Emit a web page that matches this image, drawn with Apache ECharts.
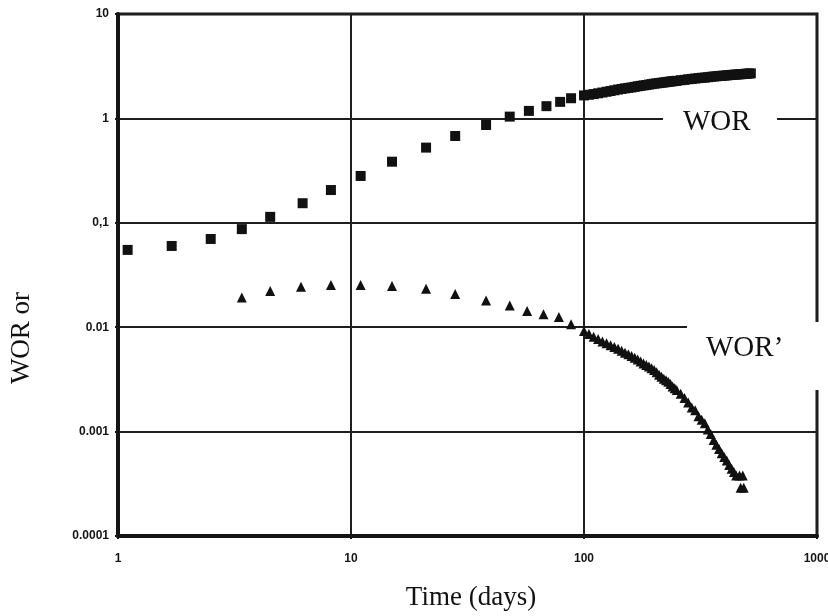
<!DOCTYPE html>
<html><head><meta charset="utf-8">
<script src="https://cdn.jsdelivr.net/npm/echarts@6/dist/echarts.min.js"></script>
<style>html,body{margin:0;padding:0;background:#fff}#c{width:828px;height:616px}</style>
</head><body><div id="c"></div>
<script>
// WOR (squares)
const worDays = [1.1, 1.7, 2.5, 3.4, 4.5, 6.2, 8.2, 11, 15, 21, 28, 38, 48, 58, 69, 79, 88,
  100, 105, 110, 115, 120, 125, 130, 135, 140, 145, 150, 155, 160, 165, 170, 175, 180, 185, 190, 195,
  200, 205, 210, 215, 220, 225, 230, 235, 240, 245, 250, 260, 270, 280, 290,
  300, 310, 320, 330, 340, 350, 360, 370, 380, 390, 400, 410, 420, 430, 440, 450, 460, 470, 480, 490, 500, 510, 520];
const worValues = [0.055, 0.060, 0.070, 0.087, 0.114, 0.154, 0.206, 0.281, 0.385, 0.525, 0.678, 0.865, 1.04, 1.18, 1.31, 1.44, 1.56,
  1.66, 1.685, 1.71, 1.74, 1.77, 1.80, 1.83, 1.86, 1.89, 1.915, 1.94, 1.96, 1.98, 2.005, 2.03, 2.05, 2.07, 2.09, 2.11, 2.13,
  2.15, 2.165, 2.18, 2.195, 2.21, 2.225, 2.24, 2.255, 2.27, 2.28, 2.29, 2.32, 2.34, 2.37, 2.39,
  2.41, 2.43, 2.45, 2.46, 2.48, 2.50, 2.52, 2.53, 2.55, 2.56, 2.57, 2.58, 2.60, 2.61, 2.62, 2.63, 2.64, 2.65, 2.66, 2.67, 2.68, 2.69, 2.70];

// WOR' (triangles)
const worDerivDays = [3.4, 4.5, 6.1, 8.2, 11, 15, 21, 28, 38, 48, 57, 67, 78, 88,
  100, 105, 110, 115, 120, 125, 130, 135, 140, 145, 150, 155, 160, 165, 170, 175, 180, 185, 190, 195,
  200, 205, 210, 215, 220, 225, 230, 235, 240, 245, 250, 260, 270, 280, 290,
  300, 310, 320, 330, 340, 350, 360, 370, 380, 390, 400, 410, 420, 430, 440, 450, 465, 480, 470, 485];
const worDerivValues = [0.0192, 0.0222, 0.0244, 0.0254, 0.0254, 0.0248, 0.0234, 0.0208, 0.0180, 0.0161, 0.0143, 0.0133, 0.0125, 0.0107,
  0.0092, 0.0086, 0.0081, 0.0077, 0.0073, 0.0070, 0.0067, 0.00645, 0.0062, 0.00595, 0.0057, 0.0055, 0.0053, 0.0051, 0.0049, 0.0047, 0.0045, 0.00435, 0.0042, 0.00405,
  0.0039, 0.0037, 0.0035, 0.00335, 0.0032, 0.0031, 0.0030, 0.00285, 0.0027, 0.0026, 0.0025, 0.0023, 0.0021, 0.0019, 0.0017,
  0.0016, 0.0014, 0.0013, 0.0012, 0.00105, 0.00095, 0.00083, 0.00075, 0.00068, 0.00062, 0.00057, 0.00053, 0.00048, 0.00044, 0.00041, 0.00038, 0.00038, 0.00038, 0.00029, 0.00029];

const xTickLabels = {1: '1', 10: '10', 100: '100', 1000: '1000'};
const yTickLabels = {10: '10', 1: '1', 0.1: '0,1', 0.01: '0.01', 0.001: '0.001', 0.0001: '0.0001'};

const worData = worDays.map((d, i) => [d, worValues[i]]);
const worDerivData = worDerivDays.map((d, i) => [d, worDerivValues[i]]);

function lbl(map, v) {
  for (const k in map) { if (Math.abs(Math.log10(+k) - Math.log10(v)) < 1e-6) return map[k]; }
  return '';
}

const labelFont = {fontFamily: 'Liberation Sans, Arial, sans-serif', fontWeight: 'bold', fontSize: 12, color: '#151515'};

const chart = echarts.init(document.getElementById('c'), null, {renderer: 'canvas'});
chart.setOption({
  animation: false,
  backgroundColor: '#fff',
  grid: {left: 118, right: 11, top: 14, bottom: 80, containLabel: false, outerBoundsMode: 'none',
    show: true, borderColor: '#151515', borderWidth: 3, backgroundColor: 'transparent'},
  xAxis: {
    type: 'log', logBase: 10, min: 1, max: 1000,
    axisLine: {show: true, onZero: false, lineStyle: {color: '#151515', width: 4}},
    axisTick: {show: true, inside: false, length: 3, lineStyle: {color: '#151515', width: 2}},
    minorTick: {show: false},
    splitLine: {show: true, lineStyle: {color: '#1e1e1e', width: 2}},
    axisLabel: Object.assign({margin: 17, formatter: v => lbl(xTickLabels, v)}, labelFont)
  },
  yAxis: {
    type: 'log', logBase: 10, min: 0.0001, max: 10,
    axisLine: {show: true, onZero: false, lineStyle: {color: '#151515', width: 4}},
    axisTick: {show: true, inside: false, length: 3, lineStyle: {color: '#151515', width: 2}},
    splitLine: {show: true, lineStyle: {color: '#1e1e1e', width: 2}},
    axisLabel: Object.assign({margin: 9, formatter: v => lbl(yTickLabels, v)}, labelFont)
  },
  series: [
    {name: 'WOR', type: 'scatter', data: worData, symbol: 'rect', symbolSize: 10,
      itemStyle: {color: '#111', opacity: 1}, z: 3},
    {name: "WOR'", type: 'scatter', data: worDerivData, symbol: 'triangle', symbolSize: 10,
      itemStyle: {color: '#111', opacity: 1}, z: 3}
  ],
  graphic: [
    {type: 'rect', z: 100, shape: {x: 663, y: 108, width: 114, height: 30}, style: {fill: '#fff'}},
    {type: 'text', z: 101, left: 683, top: 108, style: {text: 'WOR', font: '29px "Liberation Serif", "Times New Roman", serif', fill: '#111'}},
    {type: 'rect', z: 100, shape: {x: 687, y: 322, width: 141, height: 68}, style: {fill: '#fff'}},
    {type: 'text', z: 101, left: 706, top: 334, style: {text: 'WOR\u2019', font: '29px "Liberation Serif", "Times New Roman", serif', fill: '#111'}},
    {type: 'text', z: 101, x: 22, y: 338, rotation: Math.PI / 2,
      style: {text: 'WOR or', font: '27px "Liberation Serif", "Times New Roman", serif', fill: '#111', align: 'center', verticalAlign: 'middle'}},
    {type: 'text', z: 101, x: 471, y: 598,
      style: {text: 'Time (days)', font: '27px "Liberation Serif", "Times New Roman", serif', fill: '#111', align: 'center', verticalAlign: 'middle'}}
  ]
});
</script>
</body></html>
